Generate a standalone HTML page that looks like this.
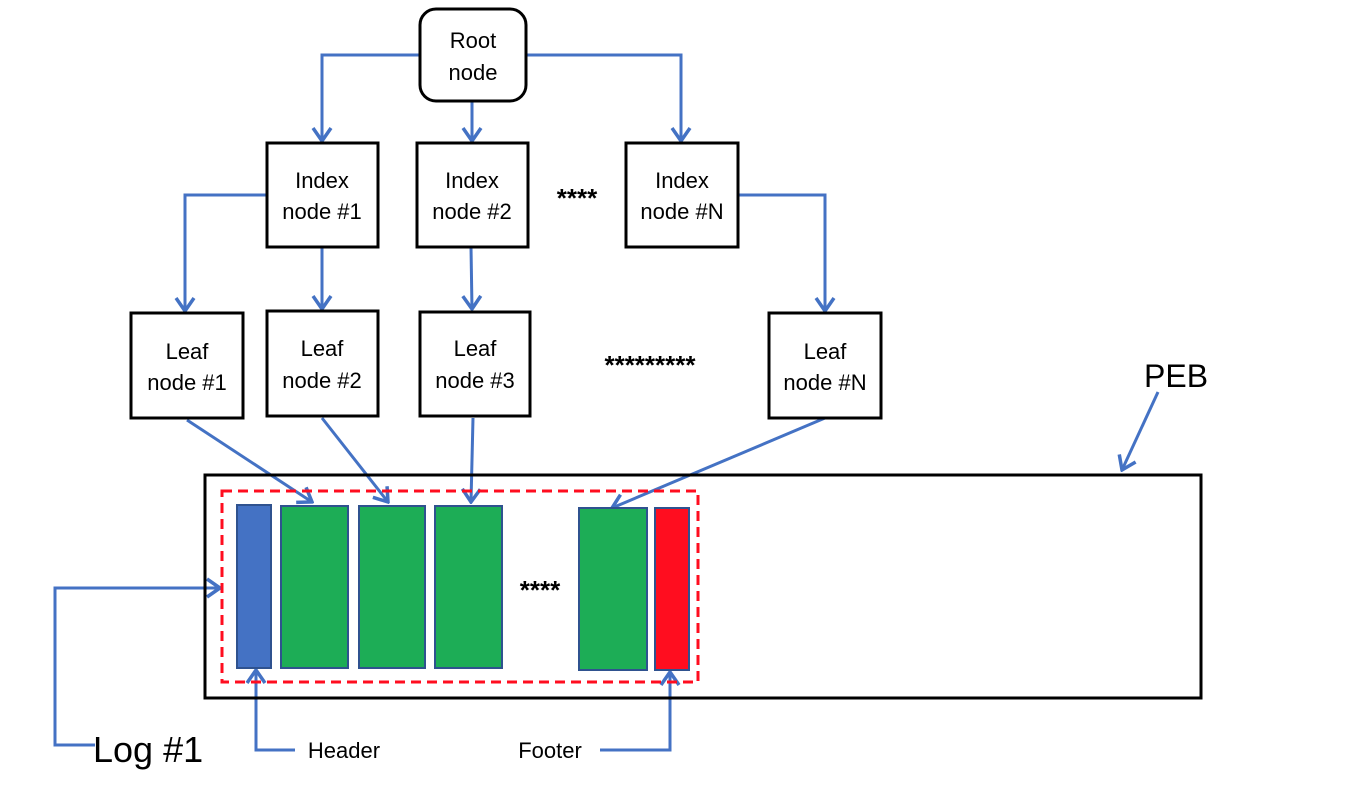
<!DOCTYPE html>
<html><head><style>body{margin:0;background:#fff}svg{display:block}text{font-family:"Liberation Sans",sans-serif}</style></head>
<body>
<svg width="1352" height="806" viewBox="0 0 1352 806">
<defs><marker id="a" markerWidth="16" markerHeight="22" refX="14" refY="11" orient="auto" markerUnits="userSpaceOnUse"><path d="M1,2 L14,11 L1,20" fill="none" stroke="#4472C4" stroke-width="3.5"/></marker></defs>
<g fill="none" stroke="#4472C4" stroke-width="3" marker-end="url(#a)">
<path d="M420,55 H322 V141"/>
<path d="M472,101 V141"/>
<path d="M526,55 H681 V141"/>
<path d="M267,195 H185 V311"/>
<path d="M322,247 V309"/>
<path d="M471,247 L472,309"/>
<path d="M738,195 H825 V311"/>
<path d="M187,420 L312,502"/>
<path d="M322,418 L388,502"/>
<path d="M473,418 L471,502"/>
<path d="M825,418 L612,508"/>
<path d="M1158,392 L1122,470"/>
<path d="M95,745 H55 V588 H220"/>
<path d="M295,750 H256 V670"/>
<path d="M600,750 H670 V672"/>
</g>
<g fill="#fff" stroke="#000" stroke-width="3">
<rect x="420" y="9" width="106" height="92" rx="16"/>
<rect x="267" y="143" width="111" height="104"/>
<rect x="417" y="143" width="111" height="104"/>
<rect x="626" y="143" width="112" height="104"/>
<rect x="131" y="313" width="112" height="105"/>
<rect x="267" y="311" width="111" height="105"/>
<rect x="420" y="312" width="110" height="104"/>
<rect x="769" y="313" width="112" height="105"/>
<rect x="205" y="475" width="996" height="223" fill="none"/>
</g>
<rect x="222" y="491" width="476" height="191" fill="none" stroke="#FF0D1F" stroke-width="3" stroke-dasharray="10,6"/>
<g stroke="#2F528F" stroke-width="2">
<rect x="237" y="505" width="34" height="163" fill="#4472C4"/>
<rect x="281" y="506" width="67" height="162" fill="#1DAD56"/>
<rect x="359" y="506" width="66" height="162" fill="#1DAD56"/>
<rect x="435" y="506" width="67" height="162" fill="#1DAD56"/>
<rect x="579" y="508" width="68" height="162" fill="#1DAD56"/>
<rect x="655" y="508" width="34" height="162" fill="#FF0D1F"/>
</g>
<g font-size="22" text-anchor="middle" fill="#000">
<text x="473" y="48">Root</text><text x="473" y="80">node</text>
<text x="322" y="188">Index</text><text x="322" y="219">node #1</text>
<text x="472" y="188">Index</text><text x="472" y="219">node #2</text>
<text x="682" y="188">Index</text><text x="682" y="219">node #N</text>
<text x="187" y="359">Leaf</text><text x="187" y="390">node #1</text>
<text x="322" y="356">Leaf</text><text x="322" y="388">node #2</text>
<text x="475" y="356">Leaf</text><text x="475" y="388">node #3</text>
<text x="825" y="359">Leaf</text><text x="825" y="390">node #N</text>
<text x="344" y="758">Header</text>
<text x="550" y="758">Footer</text>
</g>
<g font-size="26" font-weight="bold" text-anchor="middle" fill="#000">
<text x="577" y="207">****</text>
<text x="650" y="374">*********</text>
<text x="540" y="599">****</text>
</g>
<text x="93" y="762" font-size="36">Log #1</text>
<text x="1144" y="387" font-size="32">PEB</text>
</svg>
</body></html>
